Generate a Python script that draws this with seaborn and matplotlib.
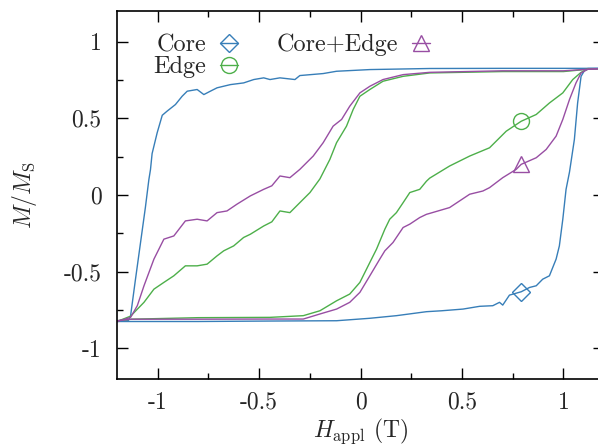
import pandas as pd
import matplotlib
matplotlib.use('Agg')
import matplotlib.pyplot as plt
import seaborn as sns
from matplotlib.lines import Line2D
from matplotlib.ticker import FixedLocator, MultipleLocator

# hysteresis branches (field in T, M/Ms)
core_down_h = [-1.20, -1.145, -1.133, -1.11, -1.084, -1.06, -1.043, -1.035, -1.027, -1.002, -0.977,
               -0.953, -0.912, -0.879, -0.854, -0.805, -0.772, -0.740, -0.707, -0.641, -0.576,
               -0.526, -0.477, -0.446, -0.397, -0.323, -0.299, -0.184, -0.118, 0.046, 0.341,
               0.70, 1.00, 1.20]
core_down_m = [-0.825, -0.82, -0.787, -0.56, -0.31, -0.08, 0.10, 0.166, 0.27, 0.406, 0.52,
               0.547, 0.59, 0.644, 0.677, 0.688, 0.655, 0.677, 0.699, 0.72, 0.731,
               0.753, 0.764, 0.753, 0.764, 0.753, 0.779, 0.792, 0.807, 0.818, 0.825,
               0.826, 0.826, 0.826]

core_up_h = [-1.20, -0.80, -0.446, -0.118, 0.046, 0.177, 0.325, 0.40, 0.505, 0.587, 0.652,
             0.685, 0.701, 0.734, 0.792, 0.833, 0.866, 0.898, 0.931, 0.964, 0.980, 0.997,
             1.013, 1.03, 1.054, 1.07, 1.087, 1.103, 1.12, 1.20]
core_up_m = [-0.825, -0.825, -0.822, -0.82, -0.804, -0.787, -0.761, -0.755, -0.744, -0.726, -0.722,
             -0.70, -0.718, -0.653, -0.631, -0.603, -0.592, -0.549, -0.527, -0.418, -0.332, -0.158,
             0.037, 0.15, 0.362, 0.60, 0.774, 0.81, 0.825, 0.826]

edge_down_h = [-1.20, -1.133, -1.067, -1.018, -0.969, -0.92, -0.863, -0.805, -0.756, -0.707,
               -0.674, -0.625, -0.576, -0.543, -0.477, -0.437, -0.397, -0.348, -0.299, -0.249,
               -0.2, -0.151, -0.118, -0.069, -0.036, -0.003, 0.046, 0.111, 0.21, 0.341, 0.70,
               1.00, 1.12, 1.20]
edge_down_m = [-0.825, -0.79, -0.70, -0.614, -0.57, -0.527, -0.462, -0.462, -0.451, -0.397,
               -0.364, -0.332, -0.277, -0.256, -0.202, -0.175, -0.104, -0.115, -0.05, 0.016,
               0.105, 0.232, 0.341, 0.449, 0.558, 0.644, 0.688, 0.742, 0.774, 0.796, 0.805,
               0.805, 0.82, 0.825]

edge_up_h = [-1.20, -1.13, -0.80, -0.446, -0.282, -0.200, -0.118, -0.053, -0.003, 0.046, 0.079,
             0.12, 0.144, 0.177, 0.210, 0.243, 0.292, 0.325, 0.341, 0.439, 0.538, 0.636, 0.718,
             0.792, 0.866, 0.931, 0.997, 1.046, 1.087, 1.12, 1.20]
edge_up_m = [-0.82, -0.81, -0.80, -0.798, -0.787, -0.755, -0.69, -0.646, -0.57, -0.44, -0.353,
             -0.223, -0.158, -0.115, -0.05, 0.016, 0.037, 0.09, 0.11, 0.189, 0.254, 0.308, 0.416,
             0.481, 0.525, 0.60, 0.666, 0.753, 0.80, 0.82, 0.825]

both_down_h = [-1.20, -1.133, -1.10, -1.067, -1.018, -0.969, -0.92, -0.863, -0.805, -0.756,
               -0.707, -0.658, -0.609, -0.543, -0.477, -0.437, -0.397, -0.348, -0.299, -0.233,
               -0.184, -0.135, -0.093, -0.053, -0.003, 0.046, 0.111, 0.21, 0.341, 0.70, 1.00,
               1.12, 1.20]
both_down_m = [-0.825, -0.798, -0.722, -0.592, -0.418, -0.288, -0.267, -0.169, -0.158, -0.169,
               -0.115, -0.104, -0.06, -0.006, 0.037, 0.06, 0.124, 0.113, 0.167, 0.254,
               0.341, 0.449, 0.493, 0.579, 0.666, 0.709, 0.753, 0.785, 0.80, 0.81, 0.81,
               0.82, 0.825]

both_up_h = [-1.20, -1.13, -0.80, -0.446, -0.282, -0.2, -0.118, -0.053, -0.003, 0.046, 0.095,
             0.12, 0.16, 0.21, 0.243, 0.292, 0.325, 0.341, 0.439, 0.538, 0.603, 0.636, 0.701,
             0.767, 0.792, 0.866, 0.915, 0.964, 0.997, 1.03, 1.062, 1.087, 1.12, 1.20]
both_up_m = [-0.82, -0.81, -0.81, -0.809, -0.809, -0.776, -0.744, -0.70, -0.635, -0.527, -0.418,
             -0.364, -0.31, -0.212, -0.19, -0.147, -0.126, -0.12, -0.082, 0.005, 0.026, 0.048, 0.113,
             0.167, 0.20, 0.243, 0.297, 0.384, 0.493, 0.623, 0.731, 0.796, 0.82, 0.825]

samples = ['Core', 'Edge', 'Core+Edge']
colors = ['#377eb8', '#4daf4a', '#984ea3']
markers = ['D', 'o', '^']
# single point marker on each loop
marker_h = [0.792, 0.792, 0.792]
marker_m = [-0.631, 0.481, 0.20]

xticks = [-1, -0.5, 0, 0.5, 1]
xticklabels = ['-1', '-0.5', '0', '0.5', '1']
yticks = [-1, -0.5, 0, 0.5, 1]
yticklabels = ['-1', '-0.5', '0', '0.5', '1']

branches = [
    ('Core', 'down', core_down_h, core_down_m),
    ('Core', 'up', core_up_h, core_up_m),
    ('Edge', 'down', edge_down_h, edge_down_m),
    ('Edge', 'up', edge_up_h, edge_up_m),
    ('Core+Edge', 'down', both_down_h, both_down_m),
    ('Core+Edge', 'up', both_up_h, both_up_m),
]
df = pd.concat([pd.DataFrame({'H': h, 'M': m, 'sample': s, 'branch': s + b})
                for s, b, h, m in branches], ignore_index=True)

sns.set_theme(style='ticks')
plt.rcParams['font.family'] = ['cmr10', 'DejaVu Serif']
plt.rcParams['mathtext.fontset'] = 'cm'
plt.rcParams['axes.unicode_minus'] = False
plt.rcParams['axes.formatter.use_mathtext'] = True

tick_fs = 17
label_fs = 17
legend_fs = 17.5
msize = {'D': 9.5, 'o': 11.5, '^': 11}
fig = plt.figure(figsize=(5.98, 4.44), dpi=100)
ax = fig.add_axes([117 / 598, 1 - 379 / 444, 487 / 598, 368 / 444])

sns.lineplot(data=df, x='H', y='M', hue='sample', units='branch', estimator=None, sort=False,
             palette=dict(zip(samples, colors)), linewidth=1.0, legend=False, ax=ax)

for h, m, c, mk in zip(marker_h, marker_m, colors, markers):
    ax.plot([h], [m], marker=mk, ms=msize[mk], mfc='none', mec=c, mew=1.0, linestyle='none')

ax.set_xlim(-1.2, 1.2)
ax.set_ylim(-1.2, 1.2)
ax.xaxis.set_major_locator(FixedLocator(xticks))
ax.set_xticklabels(xticklabels)
ax.yaxis.set_major_locator(FixedLocator(yticks))
ax.set_yticklabels(yticklabels)
ax.xaxis.set_minor_locator(MultipleLocator(0.25))
ax.yaxis.set_minor_locator(MultipleLocator(0.25))
ax.tick_params(which='both', direction='in', top=True, right=True, color='black', width=1.0)
ax.tick_params(which='major', length=8, labelsize=tick_fs)
ax.tick_params(which='minor', length=4.5)
ax.tick_params(axis='x', which='major', pad=9)
ax.tick_params(axis='y', which='major', pad=11)
for sp in ax.spines.values():
    sp.set_linewidth(1.2)
    sp.set_color('black')

ax.set_xlabel(r'$H_\mathrm{appl}$ (T)', fontsize=label_fs, labelpad=2)
ax.set_ylabel(r'$M/M_\mathrm{S}$', fontsize=label_fs, labelpad=18)

handles = [Line2D([0], [0], color=c, marker=mk, ms=msize[mk], mfc='none',
                  mec=c, mew=1.0, lw=1.0) for c, mk in zip(colors, markers)]
ax.legend(handles, samples, ncol=2, markerfirst=False, frameon=False, fontsize=legend_fs,
          handlelength=0.75, handletextpad=0.55, columnspacing=1.6, labelspacing=0.0,
          loc='upper left', bbox_to_anchor=(0.055, 0.965), borderaxespad=0)

fig.savefig('out.png', dpi=100)
